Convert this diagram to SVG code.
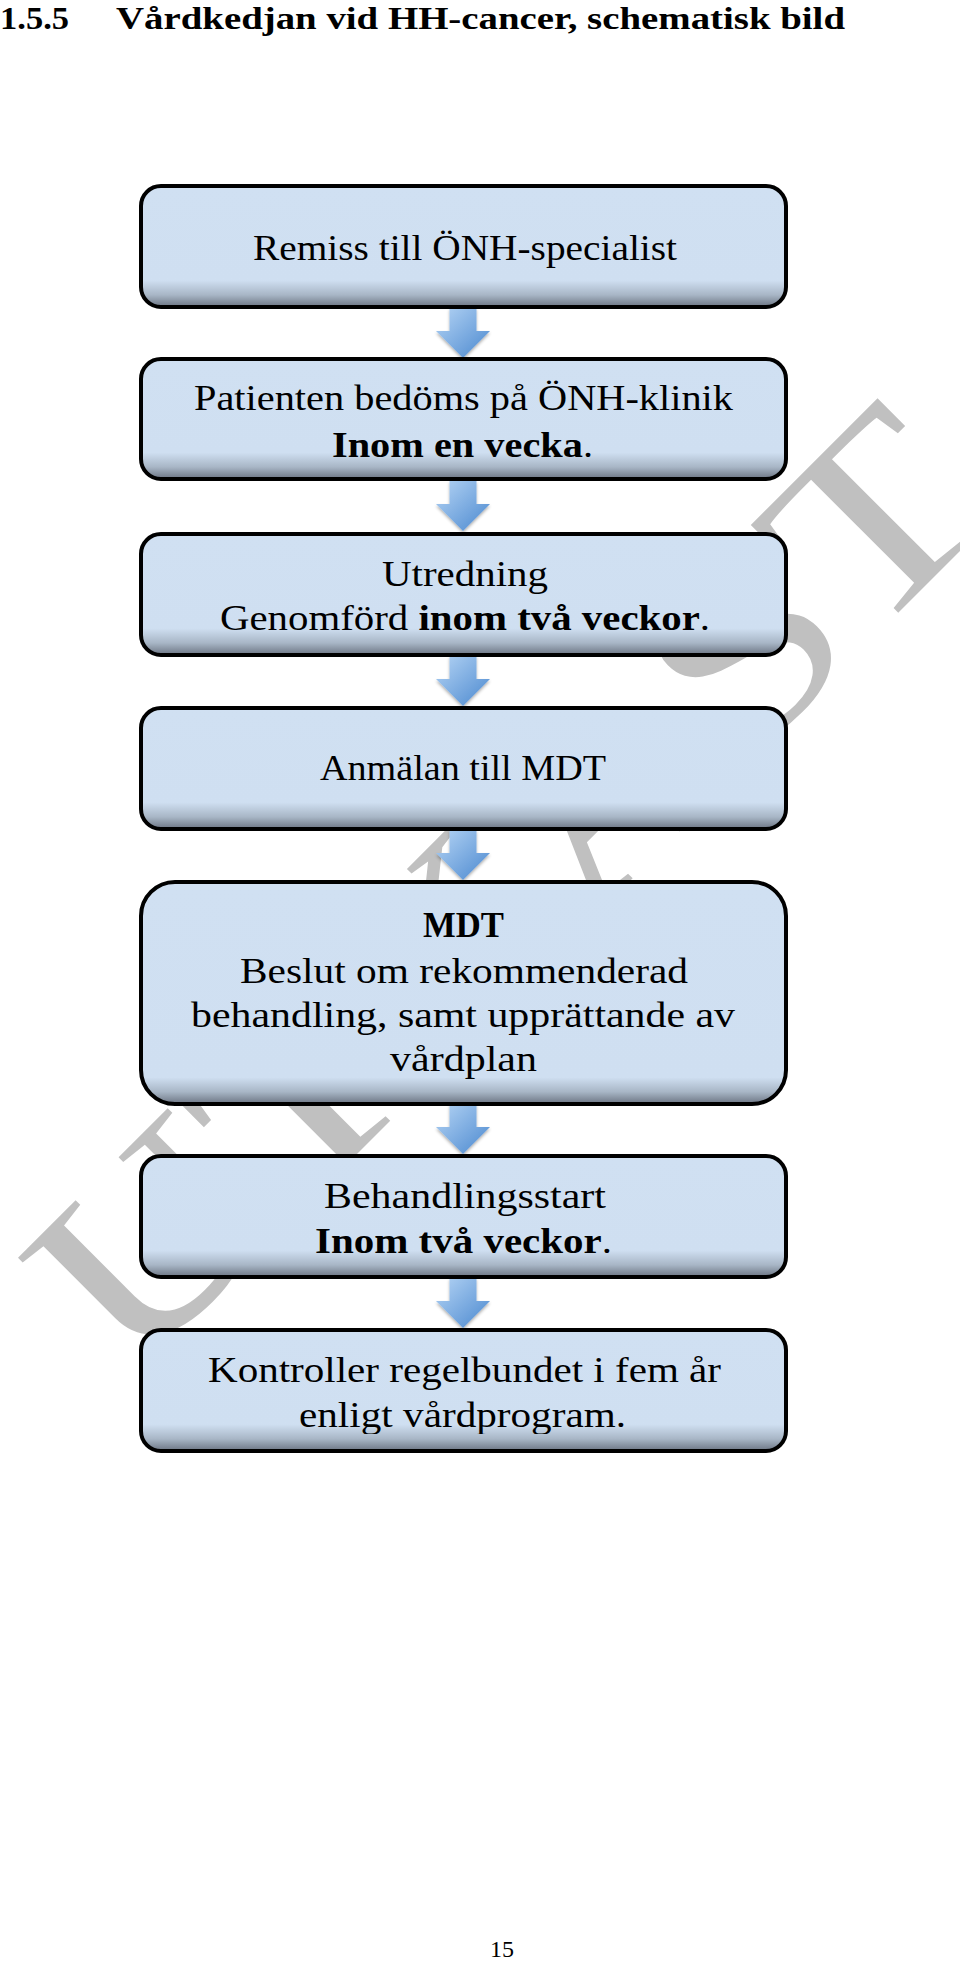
<svg xmlns="http://www.w3.org/2000/svg" xmlns:xlink="http://www.w3.org/1999/xlink" width="960" height="1963" viewBox="0 0 960 1963">
<style>
  .t { font-family: "Liberation Serif", "Times New Roman", serif; font-size: 36px; fill: #000; }
  .b { font-weight: bold; }
  .title { font-family: "Liberation Serif", "Times New Roman", serif; font-size: 32px; font-weight: bold; fill: #000; }
  .wm { font-family: "Liberation Serif", "Times New Roman", serif; font-size: 254px; fill: #c0c0c0; }
  .box { stroke: #000; stroke-width: 4; fill: url(#boxg); }
  .boxtall { stroke: #000; stroke-width: 4; fill: url(#boxgt); }
  .arrow { fill: url(#arrg); filter: url(#shadow); }
</style>
<defs>
  <linearGradient id="boxg" x1="0" y1="0" x2="0" y2="1">
    <stop offset="0" stop-color="#d0e0f2"/>
    <stop offset="0.78" stop-color="#cfdff1"/>
    <stop offset="0.9" stop-color="#a8b6c6"/>
    <stop offset="1" stop-color="#6b7482"/>
  </linearGradient>
  <linearGradient id="boxgt" x1="0" y1="0" x2="0" y2="1">
    <stop offset="0" stop-color="#d0e0f2"/>
    <stop offset="0.88" stop-color="#cfdff1"/>
    <stop offset="0.945" stop-color="#a8b6c6"/>
    <stop offset="1" stop-color="#6b7482"/>
  </linearGradient>
  <linearGradient id="arrg" x1="0" y1="0" x2="1" y2="1">
    <stop offset="0" stop-color="#b6d5f5"/>
    <stop offset="1" stop-color="#4a88cf"/>
  </linearGradient>
  <filter id="shadow" x="-30%" y="-30%" width="160%" height="160%">
    <feDropShadow dx="0" dy="2" stdDeviation="1.5" flood-color="#000" flood-opacity="0.3"/>
  </filter>
  <path id="arr" d="M -13.5 0 H 13.5 V 23 H 27 L 0 50 L -27 23 H -13.5 Z"/>
  <clipPath id="clip7">
    <rect x="140" y="1330" width="645" height="104"/>
  </clipPath>
</defs>

<g id="watermark">
  <text class="wm" transform="translate(131,1380) rotate(-45) scale(1.225,1)">UTKAST</text>
</g>

<g id="title">
  <text class="title" x="0" y="29" textLength="69" lengthAdjust="spacingAndGlyphs">1.5.5</text>
  <text class="title" x="116" y="29" textLength="729" lengthAdjust="spacingAndGlyphs">Vårdkedjan vid HH-cancer, schematisk bild</text>
</g>

<g id="connectors">
  <use xlink:href="#arr" class="arrow" transform="translate(463,308)"/>
  <use xlink:href="#arr" class="arrow" transform="translate(463,481)"/>
  <use xlink:href="#arr" class="arrow" transform="translate(463,656)"/>
  <use xlink:href="#arr" class="arrow" transform="translate(463,830)"/>
  <use xlink:href="#arr" class="arrow" transform="translate(463,1104)"/>
  <use xlink:href="#arr" class="arrow" transform="translate(463,1278)"/>
</g>

<g id="node1">
  <rect class="box" x="141" y="186" width="645" height="121" rx="20" ry="20"/>
  <text class="t" x="253" y="260" textLength="424" lengthAdjust="spacingAndGlyphs">Remiss till ÖNH-specialist</text>
</g>

<g id="node2">
  <rect class="box" x="141" y="359" width="645" height="120" rx="20" ry="20"/>
  <text class="t" x="194" y="410" textLength="539" lengthAdjust="spacingAndGlyphs">Patienten bedöms på ÖNH-klinik</text>
  <text class="t" x="332" y="457" textLength="261" lengthAdjust="spacingAndGlyphs"><tspan class="b">Inom en vecka</tspan>.</text>
</g>

<g id="node3">
  <rect class="box" x="141" y="534" width="645" height="121" rx="20" ry="20"/>
  <text class="t" x="382" y="586" textLength="166" lengthAdjust="spacingAndGlyphs">Utredning</text>
  <text class="t" x="220" y="630" textLength="490" lengthAdjust="spacingAndGlyphs">Genomförd <tspan class="b">inom två veckor</tspan>.</text>
</g>

<g id="node4">
  <rect class="box" x="141" y="708" width="645" height="121" rx="20" ry="20"/>
  <text class="t" x="320" y="780" textLength="286" lengthAdjust="spacingAndGlyphs">Anmälan till MDT</text>
</g>

<g id="node5">
  <rect class="boxtall" x="141" y="882" width="645" height="222" rx="34" ry="34"/>
  <text class="t b" x="423" y="937" textLength="81" lengthAdjust="spacingAndGlyphs">MDT</text>
  <text class="t" x="240" y="983" textLength="448" lengthAdjust="spacingAndGlyphs">Beslut om rekommenderad</text>
  <text class="t" x="191" y="1027" textLength="544" lengthAdjust="spacingAndGlyphs">behandling, samt upprättande av</text>
  <text class="t" x="390" y="1071" textLength="147" lengthAdjust="spacingAndGlyphs">vårdplan</text>
</g>

<g id="node6">
  <rect class="box" x="141" y="1156" width="645" height="121" rx="20" ry="20"/>
  <text class="t" x="324" y="1208" textLength="282" lengthAdjust="spacingAndGlyphs">Behandlingsstart</text>
  <text class="t" x="315" y="1253" textLength="297" lengthAdjust="spacingAndGlyphs"><tspan class="b">Inom två veckor</tspan>.</text>
</g>

<g id="node7">
  <rect class="box" x="141" y="1330" width="645" height="121" rx="20" ry="20"/>
  <text class="t" x="208" y="1382" textLength="513" lengthAdjust="spacingAndGlyphs">Kontroller regelbundet i fem år</text>
  <text class="t" x="299" y="1427" textLength="327" lengthAdjust="spacingAndGlyphs" clip-path="url(#clip7)">enligt vårdprogram.</text>
</g>

<g id="pagenumber">
  <text class="t" x="490" y="1957" style="font-size:24px">15</text>
</g>
</svg>
